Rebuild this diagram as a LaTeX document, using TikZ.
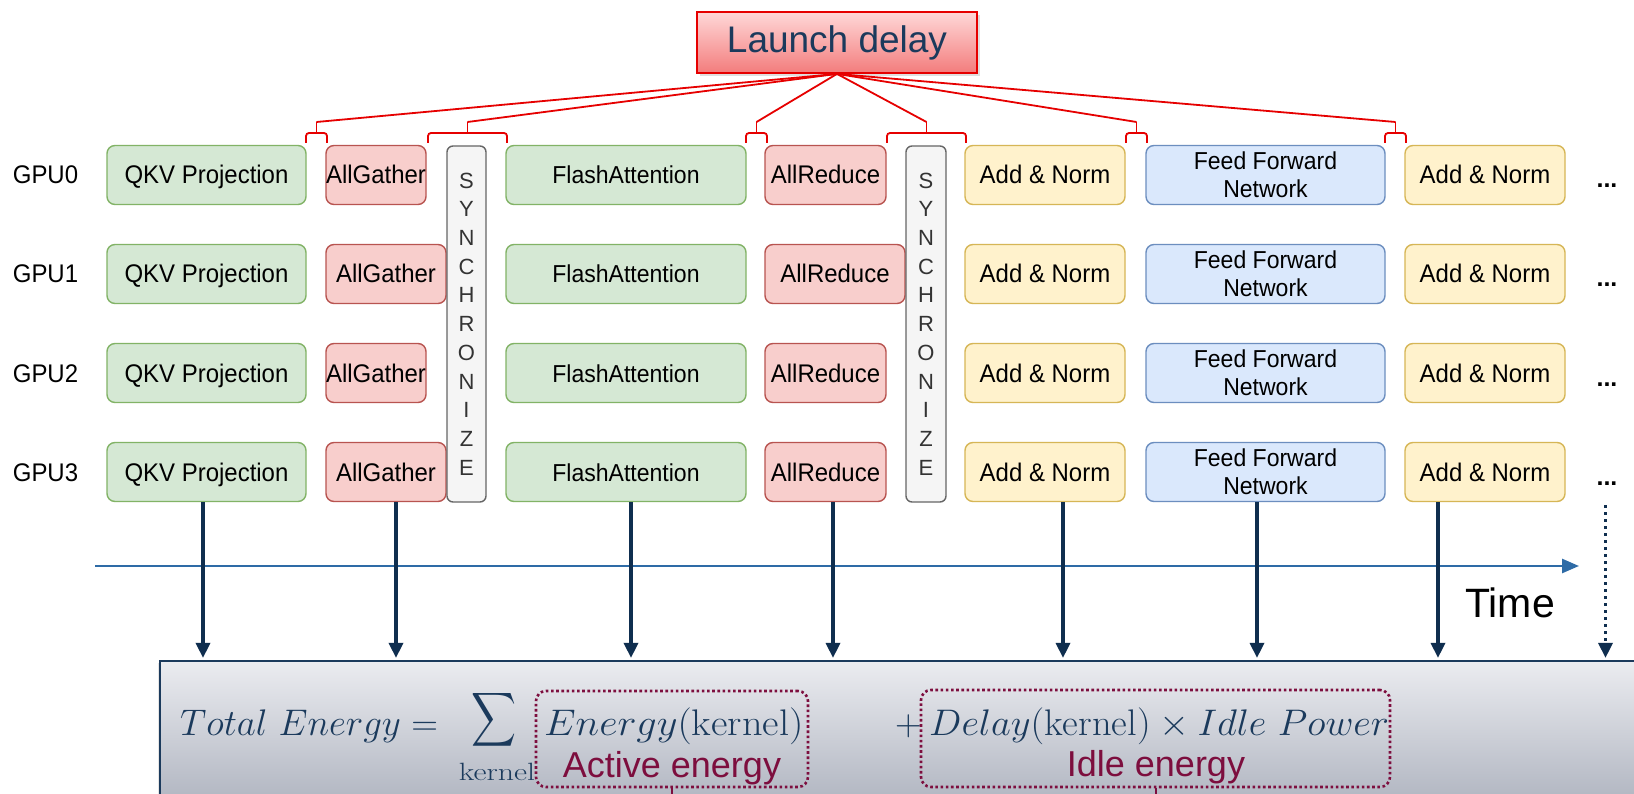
\RequirePackage{fix-cm}
\documentclass[tikz,border=0pt]{standalone}
\usepackage{fontspec}
\usepackage{graphicx}
\usetikzlibrary{arrows.meta,shadows}
\newfontfamily\arialf{Liberation Sans}
\newfontfamily\arialn[FakeStretch=0.94]{Liberation Sans}

\definecolor{gfill}{HTML}{D5E8D4}\definecolor{gline}{HTML}{82B366}
\definecolor{rfill}{HTML}{F8CECC}\definecolor{rline}{HTML}{B85450}
\definecolor{yfill}{HTML}{FFF2CC}\definecolor{yline}{HTML}{D6B656}
\definecolor{bfill}{HTML}{DAE8FC}\definecolor{bline}{HTML}{6C8EBF}
\definecolor{sfill}{HTML}{F5F5F5}\definecolor{sline}{HTML}{666666}
\definecolor{brred}{HTML}{E60000}
\definecolor{navy}{HTML}{1B3A5C}
\definecolor{arrnavy}{HTML}{0F2E4F}
\definecolor{axisblue}{HTML}{2E6BA6}
\definecolor{maroon}{HTML}{7D0E3E}
\definecolor{ldtop}{HTML}{FFD8D8}\definecolor{ldbot}{HTML}{F37C7C}
\definecolor{etop}{HTML}{EBECF0}\definecolor{ebot}{HTML}{ADB2BE}

% draws a small brace over a gap between kernels and names its tip
\newcommand\kbrace[3]{%
  \draw[brk] (#1,143) -- (#1,133) -- (#2,133) -- (#2,143);
  \coordinate (#3) at ({(#1+#2)/2},122);
  \draw[brk] (#3) -- ({(#1+#2)/2},133);
}

\begin{document}
\begin{tikzpicture}[x=1pt,y=-1pt,
  kbox/.style={draw, rounded corners=8pt, line width=1.4pt, inner sep=0pt,
    minimum height=59pt, text=black, text height=19.5pt, text depth=1.5pt,
    font=\arialn\fontsize{25.5}{28}\selectfont},
  compbox/.style={kbox, fill=gfill, draw=gline},
  commbox/.style={kbox, fill=rfill, draw=rline},
  normbox/.style={kbox, fill=yfill, draw=yline},
  ffnbox/.style={draw, rounded corners=8pt, line width=1.4pt, inner sep=0pt,
    minimum height=59pt, text=black, align=center, fill=bfill, draw=bline,
    font=\arialn\fontsize{24.5}{28}\selectfont},
  syncbox/.style={draw=sline, fill=sfill, rounded corners=6pt, line width=1.4pt,
    inner sep=0pt, minimum height=356pt, align=center, text=black!80,
    font=\arialf\fontsize{22}{28.7}\selectfont},
  gpulab/.style={font=\arialn\fontsize{25.5}{28}\selectfont, inner sep=0pt,
    text height=19.5pt, text depth=1.5pt},
  dotsl/.style={font=\arialf\bfseries\fontsize{25}{27}\selectfont, inner sep=0pt},
  brk/.style={draw=brred, line width=1.8pt, rounded corners=3pt},
  varrow/.style={draw=arrnavy, line width=3.3pt, -{Triangle[width=14pt,length=15pt]}},
  darrow/.style={draw=arrnavy, line width=3.3pt, dash pattern=on 3pt off 4pt,
    -{Triangle[width=14pt,length=15pt]}},
  taxis/.style={draw=axisblue, line width=2.6pt, -{Triangle[width=14pt,length=17pt]}},
  ftext/.style={text=navy, inner sep=0pt, font=\fontsize{37}{40}\selectfont},
  ltext/.style={text=maroon, inner sep=0pt, font=\arialf\fontsize{36}{40}\selectfont},
  dotbox/.style={draw=maroon, line width=2.6pt, dash pattern=on 2.6pt off 2.6pt,
    rounded corners=10pt, inner sep=0pt}
]
\useasboundingbox (0,0) rectangle (1634,794);
\fill[white] (0,0) rectangle (1634,794);

% launch delay banner
\node[draw=brred, line width=1.8pt, top color=ldtop, bottom color=ldbot,
  minimum width=280pt, minimum height=61pt, inner sep=0pt,
  drop shadow={shadow xshift=3pt, shadow yshift=-3pt, opacity=0.25},
  text=navy, font=\arialf\fontsize{37}{40}\selectfont] (launch) at (837,42.5) {Launch delay};

% kernel rows
\foreach \r/\y/\agw/\agx/\arw/\arx in {0/175/100/376/121/825.5,
    1/274/120/386/140/835, 2/373/100/376/121/825.5, 3/472/120/386/121/825.5}{
  \node[gpulab] (gpu\r) at (45.5,\y) {GPU\r};
  \node[compbox, minimum width=199pt] (qkv\r) at (206.5,\y) {QKV Projection};
  \node[commbox, minimum width=\agw] (ag\r) at (\agx,\y) {AllGather};
  \node[compbox, minimum width=240pt, font=\arialn\fontsize{24.5}{28}\selectfont] (fa\r) at (626,\y) {FlashAttention};
  \node[commbox, minimum width=\arw] (ar\r) at (\arx,\y) {AllReduce};
  \node[normbox, minimum width=160pt] (an\r) at (1045,\y) {Add \& Norm};
  \node[ffnbox, minimum width=239pt] (ff\r) at (1265.5,\y) {Feed Forward\\Network};
  \node[normbox, minimum width=160pt] (anb\r) at (1485,\y) {Add \& Norm};
  \node[dotsl, anchor=base] (dots\r) at (1607,\y+13) {...};
}

% synchronisation barriers
\node[syncbox, minimum width=39pt] (sync1) at (466.5,324) {S\\Y\\N\\C\\H\\R\\O\\N\\I\\Z\\E};
\node[syncbox, minimum width=40pt] (sync2) at (926,324) {S\\Y\\N\\C\\H\\R\\O\\N\\I\\Z\\E};

% braces over the launch gaps
\kbrace{306}{327}{b1}
\kbrace{428}{507}{b2}
\kbrace{746}{767}{b3}
\kbrace{887}{966}{b4}
\kbrace{1126}{1147}{b5}
\kbrace{1385}{1406}{b6}
\foreach \b in {b1,b2,b3,b4,b5,b6}{
  \draw[draw=brred, line width=1.8pt] (launch.south) -- (\b);
}

% time axis
\coordinate (t0) at (95,566);
\coordinate (t1) at (1579,566);
\draw[taxis] (t0) -- (t1);
\node[inner sep=0pt, anchor=base west, font=\arialf\fontsize{41}{44}\selectfont] (time) at (1465,617) {Time};

% energy model panel
\node[draw=navy, line width=2.2pt, top color=etop, bottom color=ebot,
  minimum width=1500pt, minimum height=150pt, inner sep=0pt,
  drop shadow={shadow xshift=-2pt, shadow yshift=-2pt, opacity=0.2}] (energy) at (910,736) {};

% kernels feeding the energy model
\draw[varrow, shorten >=2pt] ([xshift=-3.5pt]qkv3.south) -- ([xshift=-3.5pt]qkv3.south |- energy.north);
\draw[varrow, shorten >=2pt] ([xshift=10pt]ag3.south) -- ([xshift=10pt]ag3.south |- energy.north);
\draw[varrow, shorten >=2pt] ([xshift=5pt]fa3.south) -- ([xshift=5pt]fa3.south |- energy.north);
\draw[varrow, shorten >=2pt] ([xshift=7.5pt]ar3.south) -- ([xshift=7.5pt]ar3.south |- energy.north);
\draw[varrow, shorten >=2pt] ([xshift=18pt]an3.south) -- ([xshift=18pt]an3.south |- energy.north);
\draw[varrow, shorten >=2pt] ([xshift=-8.5pt]ff3.south) -- ([xshift=-8.5pt]ff3.south |- energy.north);
\draw[varrow, shorten >=2pt] ([xshift=-47pt]anb3.south) -- ([xshift=-47pt]anb3.south |- energy.north);
\draw[darrow, shorten >=2pt] ([xshift=-1.5pt,yshift=-20pt]dots3.south) -- ([xshift=-1.5pt]dots3.south |- energy.north);

% formula
\node[ftext, anchor=base west] (ftot) at (180,735) {$Total\ Energy =$};
\node[ftext] (fsum) at (494,722.5) {\resizebox{45pt}{65pt}{$\displaystyle\sum$}};
\node[ftext, anchor=base, font=\fontsize{25}{28}\selectfont] (fker) at (497,780) {\scalebox{1.28}[1]{kernel}};
\node[ftext, anchor=base west] (fen) at (544,735) {\scalebox{1.09}[1]{$Energy(\mathrm{kernel})$}};
\node[ftext, anchor=base west] (fplus) at (895,735) {$+$};
\node[ftext, anchor=base west] (fidle) at (929,735) {\scalebox{1.04}[1]{$Delay(\mathrm{kernel})\times Idle\ Power$}};

\node[dotbox, minimum width=272pt, minimum height=96pt] (active) at (672,739) {};
\node[dotbox, minimum width=469pt, minimum height=97pt] (idle) at (1155.5,738.5) {};
\node[ltext, anchor=base] (lact) at (672,777) {Active energy};
\node[ltext, anchor=base] (lidle) at (1156,776) {Idle energy};
\draw[draw=maroon, line width=2pt] (active.south) -- ++(0,15);
\draw[draw=maroon, line width=2pt] (idle.south) -- ++(0,15);
\end{tikzpicture}
\end{document}
